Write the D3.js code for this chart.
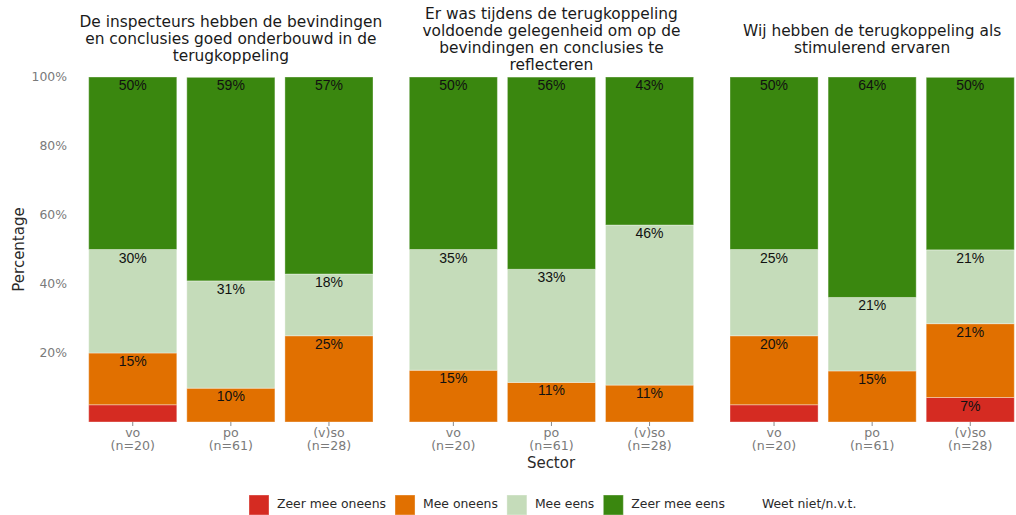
<!DOCTYPE html>
<html>
<head>
<meta charset="utf-8">
<script src="https://cdn.jsdelivr.net/npm/d3@7"></script>
<style>
  body { margin: 0; background: #fff; }
  svg { display: block; }
</style>
</head>
<body>
<div id="chart"></div>
<script>
// facet titles (already broken into lines as in the picture)
const facetTitles = [
  ["De inspecteurs hebben de bevindingen", "en conclusies goed onderbouwd in de", "terugkoppeling"],
  ["Er was tijdens de terugkoppeling", "voldoende gelegenheid om op de", "bevindingen en conclusies te", "reflecteren"],
  ["Wij hebben de terugkoppeling als", "stimulerend ervaren"]
];
const sectors = ["vo", "po", "(v)so"];
const sectorN = [20, 61, 28];

const categories = ["Zeer mee oneens", "Mee oneens", "Mee eens", "Zeer mee eens", "Weet niet/n.v.t."];
const catColors = ["#d52b22", "#e17000", "#c5dcba", "#3a870f", "#ffffff"];

// percentages per facet, per sector (vo, po, (v)so)
const zeerMeeOneens = [[5, 0, 0], [0, 0, 0], [5, 0, 7.1]];
const meeOneens = [[15, 9.8, 25], [15, 11.47, 10.7], [20, 14.8, 21.4]];
const meeEens = [[30, 31.1, 17.9], [35, 32.8, 46.4], [25, 21.3, 21.4]];
const zeerMeeEens = [[50, 59.0, 57.1], [50, 55.7, 42.9], [50, 63.9, 50]];
const weetNiet = [[0, 0, 0], [0, 0, 0], [0, 0, 0]];

const yTicks = [20, 40, 60, 80, 100];

const width = 1016;
const height = 515;

const svg = d3.select("#chart")
  .append("svg")
  .attr("width", width)
  .attr("height", height);

const series = [zeerMeeOneens, meeOneens, meeEens, zeerMeeEens, weetNiet];

const y = d3.scaleLinear().domain([0, 100]).range([422, 77]);

const facetLeft = [88.7, 409.3, 730];
const facetSpan = 284.3;

const labelFont = "'Liberation Sans', Arial, sans-serif";
const mainFont = "'DejaVu Sans', Verdana, sans-serif";

// y axis
const yAxis = svg.append("g");
yAxis.selectAll("text")
  .data(yTicks)
  .enter()
  .append("text")
  .attr("x", 67)
  .attr("y", d => y(d))
  .attr("dy", "0.36em")
  .attr("text-anchor", "end")
  .attr("font-family", mainFont)
  .attr("font-size", 12.4)
  .attr("fill", "#7a7a7a")
  .text(d => d + "%");

svg.append("text")
  .attr("transform", `translate(24,${(y(0) + y(100)) / 2}) rotate(-90)`)
  .attr("text-anchor", "middle")
  .attr("font-family", mainFont)
  .attr("font-size", 15)
  .attr("fill", "#2a2a2a")
  .text("Percentage");

facetTitles.forEach((lines, fi) => {
  const x = d3.scaleBand()
    .domain(sectors)
    .range([facetLeft[fi], facetLeft[fi] + facetSpan])
    .paddingInner(10 / 98)
    .paddingOuter(0);

  const g = svg.append("g");

  // stack per sector
  const rows = sectors.map((s, si) => {
    const row = { sector: s };
    categories.forEach((c, ci) => row[c] = series[ci][fi][si]);
    return row;
  });
  const stacked = d3.stack().keys(categories)(rows);

  stacked.forEach((layer, ci) => {
    g.selectAll(null)
      .data(layer.filter(d => d[1] - d[0] > 0))
      .enter()
      .append("rect")
      .attr("x", d => x(d.data.sector))
      .attr("width", x.bandwidth())
      .attr("y", d => y(d[1]))
      .attr("height", d => y(d[0]) - y(d[1]))
      .attr("fill", catColors[ci])
      .attr("stroke", "#ffffff")
      .attr("stroke-opacity", 0.35)
      .attr("stroke-width", 1);
  });

  stacked.forEach(layer => {
    g.selectAll(null)
      .data(layer.filter(d => d[1] - d[0] >= 6))
      .enter()
      .append("text")
      .attr("x", d => x(d.data.sector) + x.bandwidth() / 2)
      .attr("y", d => y(d[1]) + 13)
      .attr("text-anchor", "middle")
      .attr("font-family", labelFont)
      .attr("font-size", 14)
      .attr("fill", "#111")
      .text(d => d3.format(".0f")(d[1] - d[0]) + "%");
  });

  // x ticks
  sectors.forEach((s, si) => {
    const cx = x(s) + x.bandwidth() / 2;
    g.append("line")
      .attr("x1", cx).attr("x2", cx)
      .attr("y1", 422).attr("y2", 426)
      .attr("stroke", "#8a8a8a");
    const t = g.append("text")
      .attr("text-anchor", "middle")
      .attr("font-family", mainFont)
      .attr("font-size", 12.6)
      .attr("fill", "#7a7a7a");
    t.append("tspan").attr("x", cx).attr("y", 437).text(s);
    t.append("tspan").attr("x", cx).attr("y", 450).text(`(n=${sectorN[si]})`);
  });

  // facet title, vertically centred
  const cx = facetLeft[fi] + facetSpan / 2;
  const lh = 17;
  const first = 44 - (lines.length - 1) * lh / 2;
  const title = g.append("text")
    .attr("text-anchor", "middle")
    .attr("font-family", mainFont)
    .attr("font-size", 15.4)
    .attr("fill", "#1a1a1a");
  lines.forEach((l, li) => {
    title.append("tspan").attr("x", cx).attr("y", first + li * lh).text(l);
  });
});

svg.append("text")
  .attr("x", 551)
  .attr("y", 468)
  .attr("text-anchor", "middle")
  .attr("font-family", mainFont)
  .attr("font-size", 15)
  .attr("fill", "#2a2a2a")
  .text("Sector");

// legend
const legend = svg.append("g");
let lx = 249;
categories.forEach((c, ci) => {
  legend.append("rect")
    .attr("x", lx).attr("y", 495)
    .attr("width", 20).attr("height", 20)
    .attr("fill", catColors[ci])
    .attr("stroke", "#ffffff")
    .attr("stroke-opacity", 0.35);
  const t = legend.append("text")
    .attr("x", lx + 28)
    .attr("y", 508)
    .attr("font-family", mainFont)
    .attr("font-size", 12.4)
    .attr("fill", "#2a2a2a")
    .text(c);
  lx += 28 + t.node().getComputedTextLength() + 9;
});
</script>
</body>
</html>
